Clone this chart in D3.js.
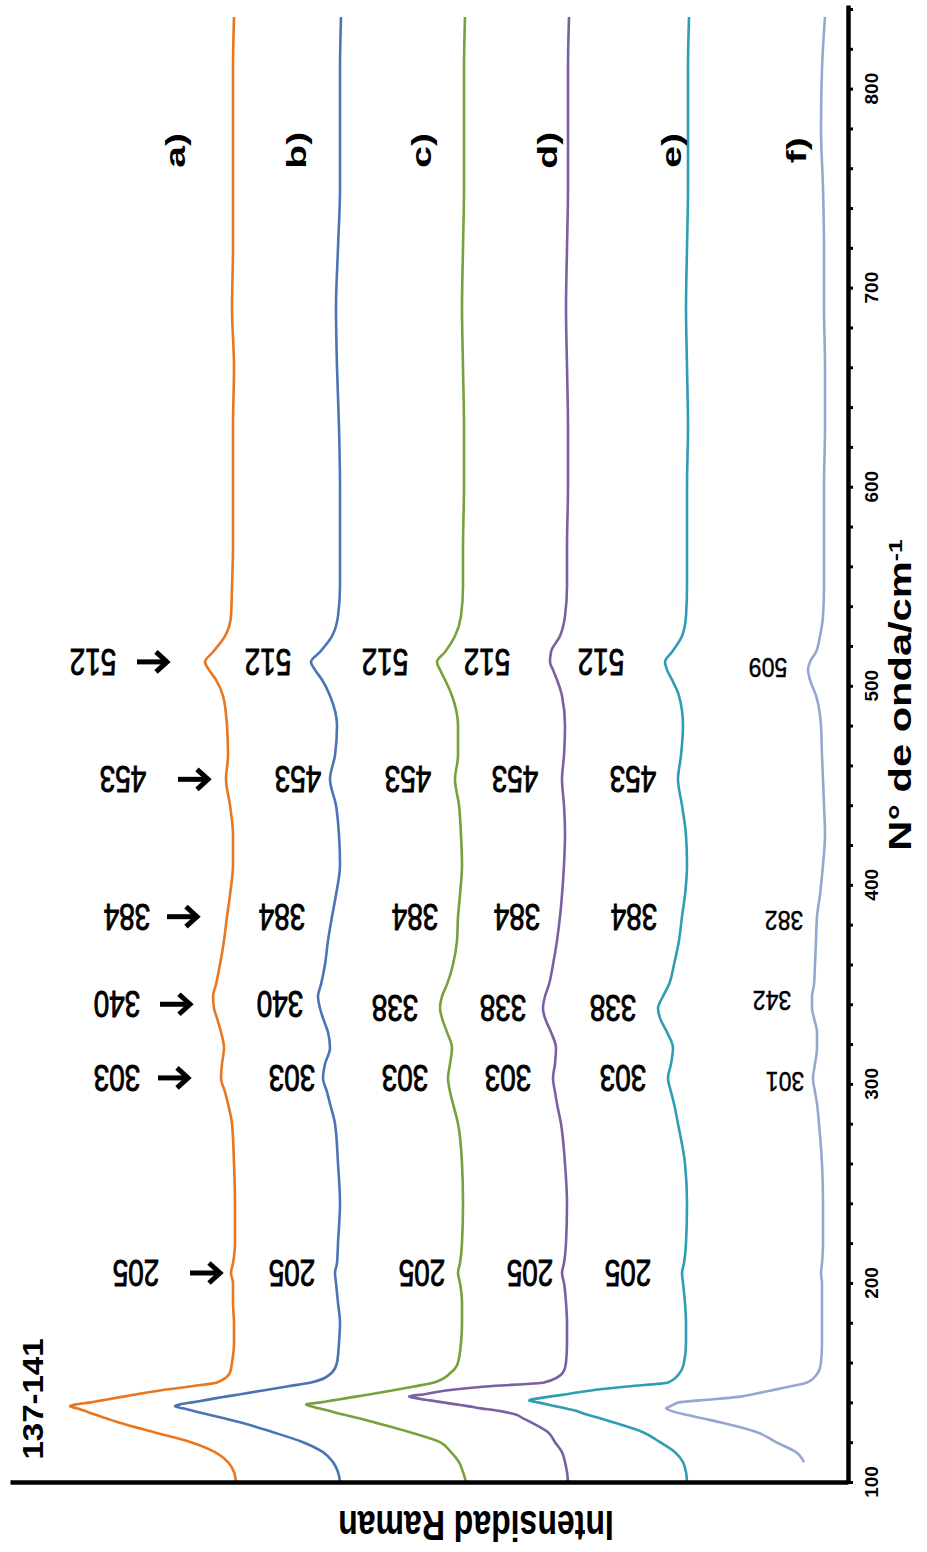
<!DOCTYPE html>
<html>
<head>
<meta charset="utf-8">
<script src="https://cdnjs.cloudflare.com/ajax/libs/d3/7.8.5/d3.min.js"></script>
<style>
body { margin: 0; background: #fff; }
svg { display: block; font-family: "Liberation Sans", Arial, sans-serif; }
</style>
</head>
<body>
<svg id="chart" width="927" height="1552"></svg>
<script>
// Raman spectra 137-141, the figure is drawn turned a quarter turn (wavenumber runs upward)
var wavenumbers = [100, 105, 110, 115, 120, 125, 130, 132, 134, 136, 137, 138, 139, 140, 141, 142, 143, 144, 146, 148, 150,
    155, 160, 170, 180, 190, 200, 205, 210, 220, 240, 260, 280, 290, 296, 303, 310, 318, 326, 333, 338, 344, 350, 360, 372,
    384, 395, 410, 425, 440, 453, 465, 480, 495, 503, 508, 512, 517, 525, 535, 550, 570, 600, 630, 660, 690, 720, 750, 780, 810, 836];

// stacked intensities (arbitrary units, offset per spectrum)
var spectrumA = [612, 614, 620, 633, 657, 694, 730, 742, 754, 765, 771, 778, 772, 757, 746, 735, 723, 712, 688, 658, 631,
    618, 616, 614, 614, 615, 615, 617, 615, 613, 613, 614, 616, 620, 623, 627, 626, 624, 627, 631, 634, 635, 632, 628, 624,
    621, 618, 615, 615, 618, 622, 620, 621, 625, 632, 639, 643, 635, 623, 617, 616, 615, 615, 615, 614, 616, 615, 615, 615, 615, 614];
var spectrumB = [508, 510, 515, 525, 545, 575, 608, 624, 641, 657, 665, 673, 668, 656, 644, 633, 621, 609, 585, 561, 537,
    516, 511, 509, 508, 510, 512, 513, 511, 510, 508, 510, 513, 518, 521, 525, 523, 518, 520, 525, 528, 530, 527, 523, 520,
    516, 512, 508, 509, 512, 518, 513, 511, 518, 526, 533, 537, 528, 516, 510, 508, 508, 508, 509, 511, 512, 510, 508, 508, 508, 507];
var spectrumC = [382, 385, 389, 397, 408, 438, 474, 489, 506, 521, 529, 537, 542, 527, 515, 503, 491, 479, 456, 434, 414,
    397, 390, 387, 386, 386, 388, 390, 388, 386, 385, 386, 390, 395, 398, 400, 398, 396, 401, 406, 408, 406, 401, 395, 391,
    390, 388, 386, 387, 389, 393, 390, 390, 396, 403, 408, 411, 403, 393, 387, 385, 385, 384, 384, 385, 386, 385, 384, 384, 384, 383];
var spectrumD = [280, 281, 283, 286, 293, 300, 317, 325, 333, 353, 367, 379, 392, 405, 418, 431, 439, 425, 402, 362, 304,
    285, 282, 281, 281, 282, 284, 286, 284, 282, 281, 283, 287, 291, 293, 295, 293, 292, 297, 303, 305, 303, 299, 295, 291,
    288, 286, 284, 283, 284, 286, 284, 283, 286, 291, 295, 298, 297, 288, 283, 281, 281, 280, 280, 281, 282, 281, 280, 280, 280, 279];
var spectrumE = [161, 162, 165, 173, 188, 205, 235, 248, 262, 274, 283, 292, 301, 310, 319, 310, 297, 283, 257, 220, 180,
    168, 164, 162, 162, 163, 165, 166, 164, 162, 161, 163, 170, 174, 177, 180, 177, 175, 181, 188, 190, 185, 179, 174, 169,
    166, 163, 161, 162, 166, 170, 167, 165, 169, 176, 181, 183, 176, 166, 162, 161, 161, 161, 160, 161, 162, 161, 160, 160, 160, 159];
var spectrumF = [null, null, 44, 52, 72, 91, 128, 146, 164, 178, 182, 178, 174, 169, 149, 125, 106, 96, 77, 58, 41,
    30, 27, 26, 26, 26, 26, 27, 26, 25, 25, 26, 29, 31, 33, 35, 33, 31, 31, 34, 36, 36, 34, 33, 32,
    31, 28, 25, 23, 24, 25, 26, 27, 32, 38, 40, 38, 32, 28, 25, 24, 24, 24, 23, 23, 24, 24, 25, 27, 26, 23];

var spectrumNames = ["a)", "b)", "c)", "d)", "e)", "f)"];
var spectrumColors = ["#e8771f", "#4a74b4", "#78a03b", "#7a5fa2", "#2f9db3", "#94a8cf"];
var nameLevels = [672, 551, 426, 300, 176, 51];   // intensity where the a)..f) tags sit
var nameWavenumber = 769;

// band labels per spectrum
var bandsA = [205, 303, 340, 384, 453, 512];
var bandLevelsA = [712, 731, 731, 721, 725, 755];
var arrowTipsA = [628, 660, 658, 651, 640, 681];
var bandsB = [205, 303, 340, 384, 453, 512];
var bandLevelsB = [556, 556, 568, 566, 550, 580];
var bandsC = [205, 303, 338, 384, 453, 512];
var bandLevelsC = [426, 443, 453, 433, 440, 463];
var bandsD = [205, 303, 338, 384, 453, 512];
var bandLevelsD = [318, 340, 345, 331, 333, 361];
var bandsE = [205, 303, 338, 384, 453, 512];
var bandLevelsE = [220, 225, 235, 214, 215, 247];
var bandsF = [301, 342, 382, 509];
var bandLevelsF = [63, 76, 64, 80];

var xTicksLabelled = [100, 200, 300, 400, 500, 600, 700, 800];

var svg = d3.select("#chart");

// wavenumber runs bottom -> top, intensity runs right -> left
var x = d3.scaleLinear().domain([100, 842]).range([1482, 5]);
var y = d3.scaleLinear().domain([0, 838]).range([848, 10]);

var spectra = [spectrumA, spectrumB, spectrumC, spectrumD, spectrumE, spectrumF];

var line = d3.line()
    .defined(function (d) { return d.v !== null; })
    .x(function (d) { return y(d.v); })
    .y(function (d) { return x(d.wn); })
    .curve(d3.curveMonotoneY);

svg.append("g").selectAll("path")
    .data(spectra)
    .enter()
    .append("path")
    .attr("fill", "none")
    .attr("stroke", function (d, i) { return spectrumColors[i]; })
    .attr("stroke-width", 2.6)
    .attr("stroke-linejoin", "round")
    .attr("d", function (d) {
        return line(d.map(function (v, i) { return { wn: wavenumbers[i], v: v }; }));
    });

// axes
var xAxis = d3.axisRight(x)
    .tickValues(d3.range(100, 841, 20))
    .tickSize(5)
    .tickSizeOuter(0)
    .tickFormat("");
var xg = svg.append("g").attr("transform", "translate(848,0)").call(xAxis);
xg.select(".domain").attr("stroke", "#000").attr("stroke-width", 4.5);
xg.selectAll(".tick line").attr("stroke", "#000").attr("stroke-width", 3);

var yAxis = d3.axisBottom(y).tickValues([]).tickSizeOuter(0);
var yg = svg.append("g").attr("transform", "translate(0,1482)").call(yAxis);
yg.select(".domain").attr("stroke", "#000").attr("stroke-width", 4.5);

function addText(txt, px, py, rot, kx, ky, size, weight) {
    return svg.append("text")
        .attr("transform", "translate(" + px + "," + py + ") rotate(" + rot + ") scale(" + kx + "," + ky + ")")
        .attr("text-anchor", "middle")
        .attr("dominant-baseline", "central")
        .attr("font-size", size)
        .attr("font-weight", weight)
        .attr("fill", "#000")
        .text(txt);
}

xTicksLabelled.forEach(function (t) {
    addText(t, 871, x(t), -90, 1, 1, 19, "bold");
});

// axis titles
var xt = svg.append("text")
    .attr("transform", "translate(911," + 695 + ") rotate(-90) scale(1.3,1)")
    .attr("text-anchor", "middle")
    .attr("font-size", 32)
    .attr("font-weight", "bold")
    .text("N° de onda/cm");
xt.append("tspan").attr("dy", "-0.5em").attr("font-size", 19).text("-1");

addText("Intensidad Raman", 476, 1526, 180, 1, 1.3, 32, "bold");
addText("137-141", 33, 1399, -90, 1.1, 1, 30, "bold");

// spectrum tags
spectrumNames.forEach(function (n, i) {
    addText(n, y(nameLevels[i]), x(nameWavenumber), -90, 1.45, 1, 27, "bold");
});

// band labels (regular face, slightly thickened like the print)
var bandRows = [[bandsA, bandLevelsA], [bandsB, bandLevelsB], [bandsC, bandLevelsC], [bandsD, bandLevelsD], [bandsE, bandLevelsE]];
bandRows.forEach(function (row) {
    row[0].forEach(function (b, i) {
        addText(b, y(row[1][i]), x(b), 180, 1, 1.35, 28, "normal")
            .attr("stroke", "#000").attr("stroke-width", 0.7);
    });
});
bandsF.forEach(function (b, i) {
    addText(b, y(bandLevelsF[i]), x(b), 180, 1, 1.2, 23, "normal")
        .attr("stroke", "#000").attr("stroke-width", 0.4);
});

// arrows of spectrum a)
var arrowLen = 30;
bandsA.forEach(function (b, i) {
    var tip = y(arrowTipsA[i]);
    var ag = svg.append("g").attr("transform", "translate(" + tip + "," + x(b) + ")");
    ag.append("path")
        .attr("d", "M" + (-arrowLen) + ",0 H-4")
        .attr("stroke", "#000")
        .attr("stroke-width", 5);
    ag.append("path")
        .attr("d", "M-11,-10 L0,0 L-11,10")
        .attr("fill", "none")
        .attr("stroke", "#000")
        .attr("stroke-width", 5);
});
</script>
</body>
</html>
